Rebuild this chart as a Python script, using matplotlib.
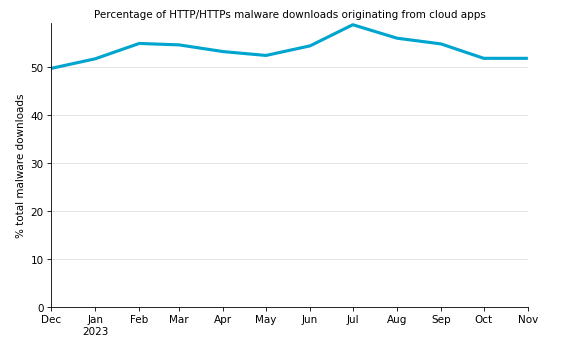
import matplotlib
matplotlib.use("Agg")
import matplotlib.pyplot as plt
import datetime as dt

months = [dt.date(2022, 12, 1)] + [dt.date(2023, m, 1) for m in range(1, 12)]
cloud_pct = [49.7, 51.7, 54.9, 54.6, 53.2, 52.4, 54.4, 58.8, 56.0, 54.8, 51.8, 51.8]
tick_labels = ["Dec", "Jan\n2023", "Feb", "Mar", "Apr", "May", "Jun", "Jul",
               "Aug", "Sep", "Oct", "Nov"]

fig = plt.figure(figsize=(7.56, 4.56), dpi=75)
ax = fig.add_axes([0.09, 0.0994, 0.841, 0.831])

ax.plot(months, cloud_pct, color="#00a5cf", linewidth=3, solid_capstyle="butt")

ax.set_xlim(months[0], months[-1])
ax.set_ylim(0, 59.2)
ax.set_yticks([0, 10, 20, 30, 40, 50])
ax.set_xticks(months)
ax.set_xticklabels(tick_labels)
ax.tick_params(labelsize=10)

ax.yaxis.grid(True, color="#e0e0e0", linewidth=0.8)
ax.set_axisbelow(True)
for s in ("top", "right"):
    ax.spines[s].set_visible(False)

ax.set_ylabel("% total malware downloads", fontsize=10)
ax.set_title("Percentage of HTTP/HTTPs malware downloads originating from cloud apps",
             fontsize=10, pad=6)

fig.savefig("out.png", dpi=75)
